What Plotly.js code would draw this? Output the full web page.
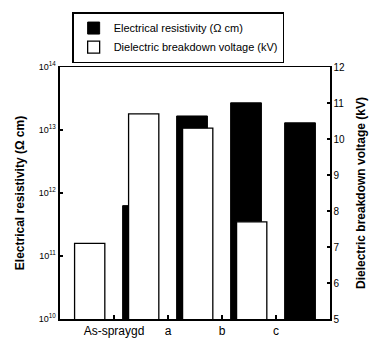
<!DOCTYPE html>
<html>
<head>
<meta charset="utf-8">
<script src="https://cdn.plot.ly/plotly-3.0.1.min.js"></script>
<style>html,body{margin:0;padding:0;background:#fff;}#chart{width:370px;height:339px;}</style>
</head>
<body>
<div id="chart"></div>
<script>
// Data
const categories = ['As-spraygd', 'a', 'b', 'c'];
const resistivity = [6.3e11, 1.67e13, 2.7e13, 1.3e13];   // Ω cm (left, log axis)
const breakdownVoltage = [7.1, 10.7, 10.3, 7.7];          // kV (right axis)
const resistTickVals = [1e10, 1e11, 1e12, 1e13, 1e14];
const resistTickText = ['10<sup>10</sup>', '10<sup>11</sup>', '10<sup>12</sup>', '10<sup>13</sup>', '10<sup>14</sup>'];
const voltTickVals = [5, 6, 7, 8, 9, 10, 11, 12];

const font = 'Liberation Sans, Arial, sans-serif';

const traces = [
  {
    type: 'bar', name: 'Electrical resistivity (Ω cm)',
    x: categories, y: resistivity, yaxis: 'y', xaxis: 'x',
    offset: 0.16, width: 0.57,
    marker: {color: '#000', line: {color: '#000', width: 1}},
    hoverinfo: 'skip'
  },
  {
    type: 'bar', name: 'Dielectric breakdown voltage (kV)',
    x: categories, y: breakdownVoltage, yaxis: 'y2', xaxis: 'x',
    offset: -0.73, width: 0.56,
    marker: {color: '#fff', line: {color: '#000', width: 1.3}},
    hoverinfo: 'skip'
  }
];

const layout = {
  width: 370, height: 339,
  margin: {l: 60, r: 40, t: 62, b: 20, pad: 0},
  paper_bgcolor: '#fff', plot_bgcolor: '#fff',
  font: {family: font, color: '#000'},
  showlegend: true,
  legend: {
    x: 0.045, y: 1.218, xanchor: 'left', yanchor: 'top',
    bordercolor: '#000', borderwidth: 1.5, bgcolor: '#fff',
    font: {size: 11, family: font}, traceorder: 'normal',
    itemwidth: 30, tracegroupgap: 0
  },
  xaxis: {
    type: 'category', range: [-1, 4],
    showline: true, linecolor: '#000', linewidth: 1.5, mirror: true,
    ticks: 'inside', ticklen: 4, tickwidth: 1.5, tickcolor: '#000',
    tickfont: {size: 12, family: font}, showgrid: false, zeroline: false,
    layer: 'below traces', fixedrange: true
  },
  yaxis: {
    type: 'log', range: [10, 14],
    tickvals: resistTickVals, ticktext: resistTickText,
    showline: true, linecolor: '#000', linewidth: 2.5,
    ticks: 'inside', ticklen: 3, tickwidth: 2, tickcolor: '#000',
    tickfont: {size: 9, family: font}, showgrid: false, zeroline: false,
    title: {text: '<b>Electrical resistivity (Ω cm)</b>', font: {size: 12, family: font}, standoff: 12}
  },
  yaxis2: {
    overlaying: 'y', side: 'right', range: [5, 12],
    tickvals: voltTickVals,
    showline: true, linecolor: '#000', linewidth: 1.5,
    ticks: 'inside', ticklen: 3, tickwidth: 1.5, tickcolor: '#000',
    tickfont: {size: 10, family: font}, showgrid: false, zeroline: false,
    title: {text: '<b>Dielectric breakdown voltage (kV)</b>', font: {size: 12, family: font}, standoff: 12}
  },
  barmode: 'overlay'
};

Plotly.newPlot('chart', traces, layout, {displayModeBar: false, staticPlot: true});
</script>
</body>
</html>
